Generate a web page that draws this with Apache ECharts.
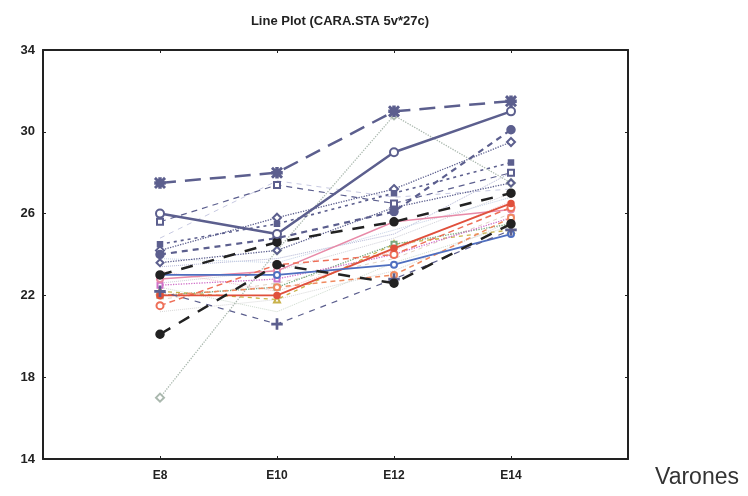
<!DOCTYPE html>
<html>
<head>
<meta charset="utf-8">
<script src="https://cdn.jsdelivr.net/npm/echarts@6/dist/echarts.min.js"></script>
<style>
  html, body { margin: 0; padding: 0; background: #ffffff; }
  #chart { width: 748px; height: 496px; }
</style>
</head>
<body>
<div id="chart"></div>
<script>
// Occasions (age points) and axis range
const categories = ['E8', 'E10', 'E12', 'E14'];
const yTicks = [14, 18, 22, 26, 30, 34];

// One value per occasion for each of the 27 cases
const c01 = [27.5, 28.0, 31.0, 31.5];
const c02 = [26.0, 25.0, 29.0, 31.0];
const c03 = [25.6, 27.4, 26.5, 28.0];
const c04 = [24.5, 25.5, 27.0, 28.5];
const c05 = [24.0, 24.8, 26.1, 30.1];
const c06 = [23.0, 24.6, 25.6, 27.0];
const c07 = [20.1, 23.5, 22.6, 25.5];
const c08 = [23.0, 23.0, 23.5, 25.0];
const c09 = [22.0, 22.0, 24.3, 26.5];
const c10 = [21.5, 23.5, 24.0, 26.3];
const c11 = [22.0, 22.4, 23.0, 25.8];
const c12 = [22.8, 23.2, 25.6, 26.2];
const c13 = [22.5, 22.8, 24.0, 25.8];
const c14 = [22.0, 22.4, 24.5, 25.5];
const c15 = [22.2, 21.8, 24.5, 25.2];
const c16 = [17.0, 24.2, 30.8, 27.5];
const c17 = [22.2, 20.6, 22.8, 25.2];
const c18 = [24.2, 25.8, 27.2, 29.5];
const c19 = [23.6, 24.2, 26.3, 27.5];
const c20 = [23.4, 23.8, 25.0, 28.0];
const c21 = [22.6, 23.2, 24.8, 27.0];
const c22 = [21.8, 22.6, 23.8, 26.0];
const c23 = [21.2, 21.8, 23.2, 25.6];
const c24 = [24.8, 27.6, 26.8, 27.2];
const c25 = [23.2, 22.2, 24.2, 26.6];
const c26 = [22.4, 21.2, 23.6, 25.4];
const c27 = [23.8, 23.6, 25.2, 26.8];

// Marker shapes
const ASTERISK = 'path://M4,0H6V4H10V6H6V10H4V6H0V4H4Z M1,0L5,4L9,0L10,1L6,5L10,9L9,10L5,6L1,10L0,9L4,5L0,1Z';
const PLUS = 'path://M4.4,0H5.6V4.4H10V5.6H5.6V10H4.4V5.6H0V4.4H4.4Z';

const SLATE = '#5c5f8e';
const FONT = 'Liberation Sans, Arial, sans-serif';

// Line look for each case: [values, colour, width, dash, symbol, symbolSize]
const looks = [
  [c20, '#b3b6d6', 1, 'dotted', 'none', 0],
  [c21, '#d0d0d8', 1, 'dotted', 'none', 0],
  [c22, '#e2d3c5', 1, [4, 4], 'none', 0],
  [c23, '#d8d8d8', 1, 'dotted', 'none', 0],
  [c24, '#c8cae2', 1, [5, 5], 'none', 0],
  [c25, '#f2c4cb', 1, 'dotted', 'none', 0],
  [c26, '#cfdccf', 1, 'dotted', 'none', 0],
  [c27, '#c4d1e6', 1, 'dotted', 'none', 0],
  [c16, '#aab8ae', 1.3, 'dotted', 'emptyDiamond', 8],
  [c15, '#c9b24a', 1.3, [4, 4], 'emptyTriangle', 6],
  [c14, '#78a87e', 1.3, 'dotted', 'emptyRect', 5],
  [c13, '#d070c8', 1.3, 'dotted', 'emptyRect', 5],
  [c12, '#e88aa8', 1.5, 'solid', 'emptyCircle', 6],
  [c11, '#f08a60', 1.5, [5, 4], 'emptyCircle', 6],
  [c10, '#ee6f58', 1.5, [6, 4], 'emptyCircle', 7],
  [c09, '#e0503c', 1.8, 'solid', 'circle', 6],
  [c08, '#4f6fc0', 1.8, 'solid', 'emptyCircle', 6],
  [c17, SLATE, 1.2, [6, 6], PLUS, 10],
  [c19, SLATE, 1.3, 'dotted', 'emptyDiamond', 7],
  [c18, SLATE, 1.3, 'dotted', 'emptyDiamond', 8],
  [c03, SLATE, 1.2, [6, 5], 'emptyRect', 6],
  [c04, SLATE, 1.6, [3, 4], 'rect', 5],
  [c05, SLATE, 2.2, [6, 5], 'circle', 8],
  [c07, '#222222', 2.5, [12, 10], 'circle', 8],
  [c06, '#222222', 2.5, [12, 10], 'circle', 8],
  [c02, SLATE, 2.5, 'solid', 'emptyCircle', 8],
  [c01, SLATE, 2.5, [16, 9], ASTERISK, 10]
];

// Padding slots at both ends so the occasions sit one step in from the frame
const axisData = [''].concat(categories, ['']);

const series = looks.map(function (l, i) {
  const vals = l[0];
  return {
    type: 'line',
    name: 'case' + (i + 1),
    data: [null].concat(vals, [null]),
    showSymbol: l[4] !== 'none',
    symbol: l[4] === 'none' ? 'circle' : l[4],
    symbolSize: l[5],
    lineStyle: { color: l[1], width: l[2], type: l[3] },
    itemStyle: { color: l[1], borderColor: l[1], borderWidth: 1.5 },
    emphasis: { disabled: true },
    z: 2 + i
  };
});

const frameLine = { show: true, lineStyle: { color: '#222', width: 2 } };
const innerTick = { show: true, inside: true, length: 3, lineStyle: { color: '#222', width: 1 } };

const chart = echarts.init(document.getElementById('chart'), null, { renderer: 'canvas' });
chart.setOption({
  animation: false,
  backgroundColor: '#ffffff',
  title: {
    text: 'Line Plot (CARA.STA 5v*27c)',
    left: 335,
    textAlign: 'center',
    top: 10,
    textStyle: { fontFamily: FONT, fontWeight: 'bold', fontSize: 13, color: '#222' }
  },
  grid: { left: 43, right: 120, top: 50, bottom: 37, containLabel: false },
  xAxis: [
    {
      type: 'category', data: axisData, boundaryGap: false,
      axisLine: frameLine, axisTick: innerTick,
      axisLabel: { fontFamily: FONT, fontWeight: 'bold', fontSize: 12, color: '#222', margin: 11 },
      splitLine: { show: false }
    },
    {
      type: 'category', data: axisData, boundaryGap: false, position: 'top',
      axisLine: frameLine, axisTick: innerTick, axisLabel: { show: false },
      splitLine: { show: false }
    }
  ],
  yAxis: [
    {
      type: 'value', min: yTicks[0], max: yTicks[yTicks.length - 1], interval: 4,
      axisLine: frameLine, axisTick: innerTick,
      axisLabel: { fontFamily: FONT, fontWeight: 'bold', fontSize: 13, color: '#222', margin: 8 },
      splitLine: { show: false }
    },
    {
      type: 'value', min: yTicks[0], max: yTicks[yTicks.length - 1], interval: 4, position: 'right',
      axisLine: frameLine, axisTick: innerTick, axisLabel: { show: false },
      splitLine: { show: false }
    }
  ],
  graphic: [
    {
      type: 'text', left: 655, top: 466,
      style: { text: 'Varones', fontFamily: FONT, fontSize: 23, fill: '#333' }
    }
  ],
  series: series
});
</script>
</body>
</html>
